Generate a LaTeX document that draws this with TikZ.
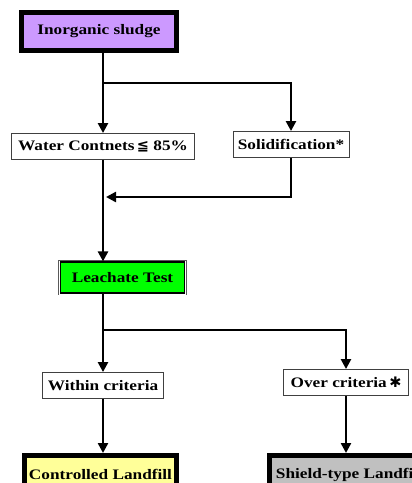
\documentclass[tikz,border=0pt]{standalone}
\usepackage{fontspec}
\setmainfont{Liberation Serif}[FakeStretch=1.19]
\newfontfamily\symfont{DejaVu Sans}
\usetikzlibrary{arrows.meta}

\definecolor{sludgecol}{HTML}{CC99FF}
\definecolor{leachcol}{HTML}{00FF00}
\definecolor{ctrlcol}{HTML}{FFFF99}
\definecolor{shieldcol}{HTML}{C0C0C0}

\begin{document}
\begin{tikzpicture}[x=1pt,y=-1pt,
  every node/.style={font=\fontsize{14.5}{17}\selectfont\bfseries,inner sep=0pt},
  box/.style={draw=black!75,line width=0.9pt,fill=white,minimum height=26pt},
  bigbox/.style={draw=black,line width=5pt,minimum height=38pt},
  leachbox/.style={fill=leachcol,draw=black,line width=1.2pt,
    preaction={draw=black!65,line width=4.4pt},
    preaction={draw=white,line width=3pt}},
  flow/.style={line width=2.4pt,-{Triangle[width=10pt,length=10pt]}}]

  \useasboundingbox (0,0) rectangle (412,483);

  \node[bigbox,fill=sludgecol,minimum width=155pt] (sludge) at (99,31.5) {Inorganic sludge};
  \node[box,minimum width=183pt] (water) at (103,146.5) {Water Contnets\,{\symfont ≦} 85\%};
  \node[box,minimum width=116pt] (solid) at (291,144.5) {Solidification*};
  \node[leachbox,minimum width=124pt,minimum height=31pt] (leach) at (122.5,277.5) {Leachate Test};
  \node[box,minimum width=121pt] (within) at (103,385.5) {Within criteria};
  \node[box,minimum width=125pt] (over) at (346,382.5) {Over criteria\,{\symfont ✱}};
  \node[bigbox,fill=ctrlcol,minimum width=152pt] (ctrl) at (100.5,474.5) {Controlled Landfill};
  \node[bigbox,fill=shieldcol,minimum width=160pt] (shield) at (349.5,474.5) {Shield-type Landfill};

  \coordinate (split1) at (103,83);
  \coordinate (join1) at (106,197);
  \coordinate (split2) at (103,330);

  \draw[flow] (sludge.south -| water) -- (water.north);
  \draw[flow] (split1) -| (solid.north);
  \draw[flow] (solid.south) |- (join1);
  \draw[flow] (water.south) -- (water.south |- leach.north);
  \draw[flow] (leach.south -| within) -- (within.north);
  \draw[flow] (split2) -| (over.north);
  \draw[flow] (within.south) -- (ctrl.north -| within);
  \draw[flow] (over.south) -- (over |- shield.north);

\end{tikzpicture}
\end{document}
